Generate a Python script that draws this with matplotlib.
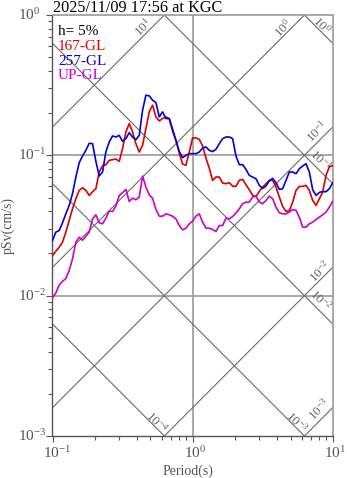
import numpy as np
import matplotlib
matplotlib.use("Agg")
import matplotlib.pyplot as plt

plt.rcParams['font.family'] = ['Liberation Serif', 'DejaVu Serif']
plt.rcParams['mathtext.fontset'] = 'custom'
plt.rcParams['mathtext.rm'] = 'Liberation Serif'
plt.rcParams['mathtext.it'] = 'Liberation Serif:italic'

# periods (s)
period = [
    0.1000, 0.1056, 0.1116, 0.1179, 0.1245, 0.1315, 0.1389, 0.1468, 0.1551, 0.1638,
    0.1731, 0.1828, 0.1931, 0.2040, 0.2154, 0.2276, 0.2404, 0.2539, 0.2683, 0.2834,
    0.2994, 0.3162, 0.3341, 0.3529, 0.3728, 0.3938, 0.4160, 0.4394, 0.4642, 0.4904,
    0.5179, 0.5471, 0.5780, 0.6105, 0.6449, 0.6813, 0.7197, 0.7603, 0.8031, 0.8483,
    0.8961, 0.9466, 1.000, 1.056, 1.116, 1.179, 1.245, 1.315, 1.389, 1.468,
    1.551, 1.638, 1.731, 1.828, 1.931, 2.040, 2.154, 2.276, 2.404, 2.539,
    2.683, 2.834, 2.994, 3.162, 3.341, 3.529, 3.728, 3.938, 4.160, 4.394,
    4.642, 4.904, 5.179, 5.471, 5.780, 6.105, 6.449, 6.813, 7.197, 7.603,
    8.031, 8.483, 8.961, 9.466, 10.00,
]

# pSv (cm/s), 167-GL component
sv_167 = [
    0.01931, 0.02073, 0.02215, 0.02404, 0.02834, 0.03434, 0.04160, 0.04904, 0.05624, 0.05875,
    0.05624, 0.05179, 0.05502, 0.05780, 0.07603, 0.08435, 0.08577, 0.09210, 0.09312, 0.09410,
    0.09060, 0.1116, 0.1468, 0.1684, 0.1468, 0.1211, 0.1056, 0.1179, 0.1551, 0.2040,
    0.2276, 0.1879, 0.1759, 0.1828, 0.1879, 0.1828, 0.1484, 0.1279, 0.1039, 0.08670,
    0.08483, 0.1056, 0.1330, 0.1330, 0.1301, 0.1166, 0.09570, 0.08120, 0.06630, 0.07003,
    0.07003, 0.06346, 0.06281, 0.06379, 0.06039, 0.06006, 0.06630, 0.06740, 0.06174, 0.05685,
    0.05179, 0.05095, 0.05532, 0.05940, 0.06281, 0.06630, 0.06630, 0.05940, 0.05040, 0.04321,
    0.03981, 0.04049, 0.04642, 0.05624, 0.06006, 0.06006, 0.06105, 0.05624, 0.04771, 0.04394,
    0.04904, 0.05471, 0.07197, 0.08299, 0.08435,
]

# pSv (cm/s), 257-GL component
sv_257 = [
    0.02471, 0.02834, 0.02913, 0.03305, 0.03831, 0.04394, 0.05323, 0.07003, 0.08863, 0.09890,
    0.1086, 0.1218, 0.1211, 0.09060, 0.07120, 0.07603, 0.1056, 0.1245, 0.1374, 0.1351,
    0.1389, 0.1259, 0.1315, 0.1452, 0.1351, 0.1294, 0.1389, 0.2096, 0.2683, 0.2654,
    0.2471, 0.2378, 0.1879, 0.2040, 0.1828, 0.1828, 0.1534, 0.1279, 0.1068, 0.09624,
    0.1000, 0.1028, 0.1028, 0.1028, 0.1056, 0.1128, 0.1147, 0.1086, 0.1062, 0.1104,
    0.1211, 0.1315, 0.1351, 0.1351, 0.1315, 0.09890, 0.08577, 0.08577, 0.07943, 0.07197,
    0.07003, 0.06813, 0.06105, 0.05812, 0.06039, 0.06594, 0.06850, 0.06379, 0.05717, 0.05780,
    0.06630, 0.07603, 0.07603, 0.07397, 0.08031, 0.08390, 0.08719, 0.07603, 0.05685, 0.05179,
    0.05441, 0.05532, 0.05501, 0.05780, 0.06379,
]

# pSv (cm/s), UP-GL component
sv_up = [
    0.009676, 0.01045, 0.01192, 0.01266, 0.01323, 0.01509, 0.01828, 0.02404, 0.02611, 0.02484,
    0.02653, 0.02834, 0.03529, 0.03768, 0.03305, 0.03251, 0.03567, 0.04003, 0.03981, 0.04345,
    0.05179, 0.05412, 0.05717, 0.04692, 0.04957, 0.04823, 0.05040, 0.07120, 0.05940, 0.05236,
    0.04957, 0.04114, 0.03686, 0.03686, 0.03831, 0.03768, 0.03686, 0.03529, 0.03162, 0.02944,
    0.03027, 0.03251, 0.03396, 0.03686, 0.03831, 0.03341, 0.03027, 0.03027, 0.02960, 0.02865,
    0.03162, 0.03162, 0.03567, 0.03529, 0.03666, 0.03874, 0.04160, 0.04517, 0.04642, 0.04642,
    0.05040, 0.05123, 0.04642, 0.04517, 0.04771, 0.05123, 0.04904, 0.04275, 0.03896, 0.03831,
    0.03831, 0.03938, 0.04114, 0.04049, 0.03626, 0.03077, 0.03077, 0.03251, 0.03341, 0.03489,
    0.03626, 0.03768, 0.03938, 0.04275, 0.04692,
]

series_names = ['167-GL', '257-GL', 'UP-GL']
series_colors = ['#dd0000', '#0000dd', '#cc00cc']

# tripartite levels
sa_levels = [1e1, 1e0, 1e-1, 1e-2, 1e-3]      # cm/s^2
sd_levels = [1e0, 1e-1, 1e-2, 1e-3, 1e-4]     # cm

title = '2025/11/09 17:56 at KGC'

W, H = 347, 478
fig = plt.figure(figsize=(W / 100, H / 100), dpi=100)
ax = fig.add_axes([52.5 / W, (H - 436) / H, 280.2 / W, 421 / H])
ax.set_xscale('log')
ax.set_yscale('log')
ax.set_xlim(0.1, 10)
ax.set_ylim(1e-3, 1)

gray = '#555555'
tp = 2 * np.pi
tt = np.array([0.1, 10.0])

# grid
for v in [1e-2, 1e-1]:
    ax.axhline(v, color='#999999', lw=1.2, zorder=1)
ax.axvline(1.0, color='#999999', lw=1.2, zorder=1)

# diagonal lines
for a in sa_levels:
    ax.plot(tt, a * tt / tp, color='#6a6a6a', lw=0.8, zorder=1)
for d in sd_levels:
    ax.plot(tt, tp * d / tt, color='#6a6a6a', lw=0.8, zorder=1)

def exp_label(v):
    return r'$10^{%d}$' % int(round(np.log10(v)))

# diagonal labels (period, pSv, level, rotation)
diag_labels = [
    (0.443, 0.821, sa_levels[0], 45),
    (4.42, 0.808, sa_levels[1], 45),
    (8.39, 0.849, sd_levels[0], -45),
    (7.73, 0.1466, sa_levels[2], 45),
    (8.11, 0.0926, sd_levels[1], -45),
    (8.11, 0.01497, sa_levels[3], 45),
    (8.11, 0.00931, sd_levels[2], -45),
    (5.56, 0.001256, sd_levels[3], -45),
    (7.95, 0.00155, sa_levels[4], 45),
    (0.557, 0.001256, sd_levels[4], -45),
]
for x, y, lev, rot in diag_labels:
    ax.text(x, y, exp_label(lev), rotation=rot, rotation_mode='anchor',
            ha='center', va='center', fontsize=9.5, color='#666666', zorder=2)

# spectra
for sv, name, col in zip([sv_167, sv_257, sv_up], series_names, series_colors):
    ax.plot(period, sv, color=col, lw=1.2, zorder=3)

# spines / ticks
for s in ['left', 'bottom']:
    ax.spines[s].set_color(gray)
    ax.spines[s].set_linewidth(1.0)
for s in ['top', 'right']:
    ax.spines[s].set_color('#999999')
    ax.spines[s].set_linewidth(1.2)
ax.tick_params(which='both', direction='out', color=gray, top=False, right=False,
               labelbottom=False, labelleft=False)
ax.tick_params(which='major', length=4.3, width=0.8)
ax.tick_params(which='minor', length=3.0, width=0.8)

for v in [0.1, 1, 10]:
    ax.annotate(exp_label(v), xy=(v, 0), xycoords=('data', 'axes fraction'),
                xytext=(-6.5, -6.5), textcoords='offset points',
                ha='left', va='top', fontsize=11, color=gray)
for v in [1e-3, 1e-2, 1e-1, 1]:
    ax.annotate(exp_label(v), xy=(0, v), xycoords=('axes fraction', 'data'),
                xytext=(-24.8, -3.6), textcoords='offset points',
                ha='left', va='baseline', fontsize=11, color=gray)

ax.set_xlabel('Period(s)', fontsize=10, color=gray)
ax.xaxis.set_label_coords(0.485, -0.068)
ax.set_ylabel('pSv(cm/s)', fontsize=10, color=gray)
ax.yaxis.set_label_coords(-0.135, 0.5)

# legend text
ax.text((58 - 52.5) / 280.2, 1 - (35 - 15) / 421, 'h= 5%',
        transform=ax.transAxes, fontsize=11, color='black', va='baseline')
for i, (name, col) in enumerate(zip(series_names, series_colors)):
    ax.text((58 - 52.5) / 280.2, 1 - (50 + 14.7 * i - 15) / 421, name,
            transform=ax.transAxes, fontsize=11, color=col, va='baseline')

fig.text(53 / W, 1 - 12 / H, title, fontsize=11.7, color='black', va='baseline')

fig.savefig('out.png', dpi=100)
